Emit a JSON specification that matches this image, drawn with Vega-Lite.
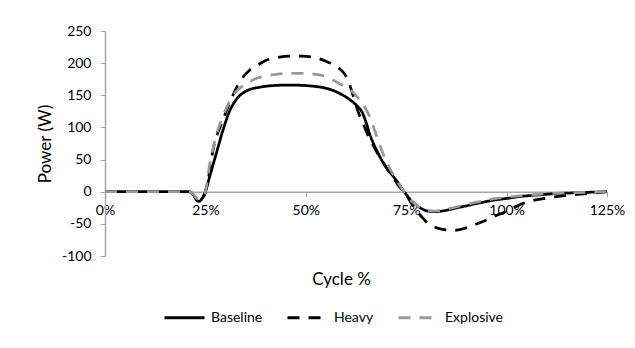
{
  "$schema": "https://vega.github.io/schema/vega-lite/v6.json",
  "width": 502,
  "height": 225,
  "autosize": {"type": "none"},
  "padding": {"left": 105, "top": 31, "right": 28, "bottom": 92},
  "background": "white",
  "view": {"stroke": null},
  "config": {"font": "Lato"},
  "data": {"values": [
    {"Series":"Baseline","Cycle":0,"Power":0},{"Series":"Baseline","Cycle":5,"Power":0},{"Series":"Baseline","Cycle":10,"Power":0},{"Series":"Baseline","Cycle":15,"Power":0},{"Series":"Baseline","Cycle":20,"Power":0},{"Series":"Baseline","Cycle":21,"Power":0},{"Series":"Baseline","Cycle":22,"Power":-5},{"Series":"Baseline","Cycle":23,"Power":-14},{"Series":"Baseline","Cycle":23.5,"Power":-15},{"Series":"Baseline","Cycle":24,"Power":-12},{"Series":"Baseline","Cycle":25,"Power":0},{"Series":"Baseline","Cycle":26,"Power":22},{"Series":"Baseline","Cycle":27,"Power":44},{"Series":"Baseline","Cycle":28,"Power":66},{"Series":"Baseline","Cycle":29,"Power":88},{"Series":"Baseline","Cycle":30,"Power":108},{"Series":"Baseline","Cycle":31,"Power":125},{"Series":"Baseline","Cycle":32,"Power":137},{"Series":"Baseline","Cycle":33,"Power":146},{"Series":"Baseline","Cycle":34,"Power":152},{"Series":"Baseline","Cycle":35,"Power":156},{"Series":"Baseline","Cycle":36,"Power":159},{"Series":"Baseline","Cycle":38,"Power":162},{"Series":"Baseline","Cycle":40,"Power":164},{"Series":"Baseline","Cycle":43,"Power":165.5},{"Series":"Baseline","Cycle":46,"Power":166},{"Series":"Baseline","Cycle":49,"Power":165.5},{"Series":"Baseline","Cycle":52,"Power":164},{"Series":"Baseline","Cycle":55,"Power":161},{"Series":"Baseline","Cycle":57,"Power":157},{"Series":"Baseline","Cycle":59,"Power":151},{"Series":"Baseline","Cycle":61,"Power":143},{"Series":"Baseline","Cycle":62,"Power":138},{"Series":"Baseline","Cycle":63,"Power":132},{"Series":"Baseline","Cycle":64,"Power":124},{"Series":"Baseline","Cycle":65,"Power":108},{"Series":"Baseline","Cycle":66,"Power":88},{"Series":"Baseline","Cycle":67,"Power":73},{"Series":"Baseline","Cycle":68,"Power":60},{"Series":"Baseline","Cycle":69,"Power":48},{"Series":"Baseline","Cycle":70,"Power":38},{"Series":"Baseline","Cycle":71,"Power":30},{"Series":"Baseline","Cycle":72,"Power":22},{"Series":"Baseline","Cycle":73,"Power":14},{"Series":"Baseline","Cycle":74,"Power":4},{"Series":"Baseline","Cycle":75,"Power":-4},{"Series":"Baseline","Cycle":76,"Power":-12},{"Series":"Baseline","Cycle":77,"Power":-18},{"Series":"Baseline","Cycle":78,"Power":-23},{"Series":"Baseline","Cycle":79,"Power":-27},{"Series":"Baseline","Cycle":80,"Power":-29.5},{"Series":"Baseline","Cycle":82,"Power":-31},{"Series":"Baseline","Cycle":84,"Power":-30},{"Series":"Baseline","Cycle":86,"Power":-27.5},{"Series":"Baseline","Cycle":88,"Power":-24.5},{"Series":"Baseline","Cycle":90,"Power":-22},{"Series":"Baseline","Cycle":92,"Power":-19},{"Series":"Baseline","Cycle":94,"Power":-16.5},{"Series":"Baseline","Cycle":96,"Power":-14},{"Series":"Baseline","Cycle":98,"Power":-12},{"Series":"Baseline","Cycle":100,"Power":-10.5},{"Series":"Baseline","Cycle":104,"Power":-7},{"Series":"Baseline","Cycle":108,"Power":-5},{"Series":"Baseline","Cycle":112,"Power":-3},{"Series":"Baseline","Cycle":116,"Power":-2},{"Series":"Baseline","Cycle":120,"Power":-1},{"Series":"Baseline","Cycle":125,"Power":0},
    {"Series":"Heavy","Cycle":0,"Power":0},{"Series":"Heavy","Cycle":5,"Power":0},{"Series":"Heavy","Cycle":10,"Power":0},{"Series":"Heavy","Cycle":15,"Power":0},{"Series":"Heavy","Cycle":20,"Power":0},{"Series":"Heavy","Cycle":21,"Power":0},{"Series":"Heavy","Cycle":22,"Power":-5},{"Series":"Heavy","Cycle":23,"Power":-14},{"Series":"Heavy","Cycle":23.5,"Power":-15},{"Series":"Heavy","Cycle":24,"Power":-12},{"Series":"Heavy","Cycle":25,"Power":0},{"Series":"Heavy","Cycle":26,"Power":30},{"Series":"Heavy","Cycle":27,"Power":68},{"Series":"Heavy","Cycle":28,"Power":90},{"Series":"Heavy","Cycle":29,"Power":106},{"Series":"Heavy","Cycle":30,"Power":122},{"Series":"Heavy","Cycle":31,"Power":138},{"Series":"Heavy","Cycle":32,"Power":152},{"Series":"Heavy","Cycle":33,"Power":165},{"Series":"Heavy","Cycle":34,"Power":175},{"Series":"Heavy","Cycle":35,"Power":183},{"Series":"Heavy","Cycle":36,"Power":189},{"Series":"Heavy","Cycle":38,"Power":197},{"Series":"Heavy","Cycle":40,"Power":204},{"Series":"Heavy","Cycle":43,"Power":209},{"Series":"Heavy","Cycle":46,"Power":211},{"Series":"Heavy","Cycle":49,"Power":211},{"Series":"Heavy","Cycle":52,"Power":209},{"Series":"Heavy","Cycle":55,"Power":203},{"Series":"Heavy","Cycle":57,"Power":197},{"Series":"Heavy","Cycle":59,"Power":188},{"Series":"Heavy","Cycle":60,"Power":180},{"Series":"Heavy","Cycle":61,"Power":165},{"Series":"Heavy","Cycle":62,"Power":145},{"Series":"Heavy","Cycle":63,"Power":125},{"Series":"Heavy","Cycle":64,"Power":110},{"Series":"Heavy","Cycle":65,"Power":95},{"Series":"Heavy","Cycle":66,"Power":80},{"Series":"Heavy","Cycle":67,"Power":70},{"Series":"Heavy","Cycle":68,"Power":58},{"Series":"Heavy","Cycle":69,"Power":48},{"Series":"Heavy","Cycle":70,"Power":38},{"Series":"Heavy","Cycle":71,"Power":29},{"Series":"Heavy","Cycle":72,"Power":20},{"Series":"Heavy","Cycle":73,"Power":10},{"Series":"Heavy","Cycle":74,"Power":3},{"Series":"Heavy","Cycle":75,"Power":-5},{"Series":"Heavy","Cycle":76,"Power":-15},{"Series":"Heavy","Cycle":77,"Power":-25},{"Series":"Heavy","Cycle":78,"Power":-33},{"Series":"Heavy","Cycle":79,"Power":-40},{"Series":"Heavy","Cycle":80,"Power":-47},{"Series":"Heavy","Cycle":81,"Power":-52},{"Series":"Heavy","Cycle":83,"Power":-57},{"Series":"Heavy","Cycle":85,"Power":-59.5},{"Series":"Heavy","Cycle":87,"Power":-60},{"Series":"Heavy","Cycle":89,"Power":-58},{"Series":"Heavy","Cycle":91,"Power":-54},{"Series":"Heavy","Cycle":93,"Power":-49},{"Series":"Heavy","Cycle":95,"Power":-44},{"Series":"Heavy","Cycle":97,"Power":-38},{"Series":"Heavy","Cycle":99,"Power":-33},{"Series":"Heavy","Cycle":101,"Power":-27},{"Series":"Heavy","Cycle":103,"Power":-21},{"Series":"Heavy","Cycle":105,"Power":-16},{"Series":"Heavy","Cycle":108,"Power":-12},{"Series":"Heavy","Cycle":112,"Power":-8},{"Series":"Heavy","Cycle":116,"Power":-5},{"Series":"Heavy","Cycle":120,"Power":-3},{"Series":"Heavy","Cycle":125,"Power":0},
    {"Series":"Explosive","Cycle":0,"Power":0},{"Series":"Explosive","Cycle":5,"Power":0},{"Series":"Explosive","Cycle":10,"Power":0},{"Series":"Explosive","Cycle":15,"Power":0},{"Series":"Explosive","Cycle":20,"Power":0},{"Series":"Explosive","Cycle":21,"Power":0},{"Series":"Explosive","Cycle":22,"Power":-4},{"Series":"Explosive","Cycle":23,"Power":-11},{"Series":"Explosive","Cycle":23.5,"Power":-12},{"Series":"Explosive","Cycle":24,"Power":-10},{"Series":"Explosive","Cycle":25,"Power":0},{"Series":"Explosive","Cycle":26,"Power":40},{"Series":"Explosive","Cycle":27,"Power":70},{"Series":"Explosive","Cycle":28,"Power":94},{"Series":"Explosive","Cycle":29,"Power":112},{"Series":"Explosive","Cycle":30,"Power":127},{"Series":"Explosive","Cycle":31,"Power":140},{"Series":"Explosive","Cycle":32,"Power":151},{"Series":"Explosive","Cycle":33,"Power":158},{"Series":"Explosive","Cycle":34,"Power":163},{"Series":"Explosive","Cycle":35,"Power":167},{"Series":"Explosive","Cycle":36,"Power":171},{"Series":"Explosive","Cycle":38,"Power":177},{"Series":"Explosive","Cycle":40,"Power":180},{"Series":"Explosive","Cycle":43,"Power":183},{"Series":"Explosive","Cycle":46,"Power":184},{"Series":"Explosive","Cycle":49,"Power":184},{"Series":"Explosive","Cycle":52,"Power":183},{"Series":"Explosive","Cycle":55,"Power":179},{"Series":"Explosive","Cycle":57,"Power":173},{"Series":"Explosive","Cycle":59,"Power":166},{"Series":"Explosive","Cycle":61,"Power":158},{"Series":"Explosive","Cycle":62,"Power":153},{"Series":"Explosive","Cycle":63,"Power":146},{"Series":"Explosive","Cycle":64,"Power":138},{"Series":"Explosive","Cycle":65,"Power":128},{"Series":"Explosive","Cycle":66,"Power":115},{"Series":"Explosive","Cycle":67,"Power":98},{"Series":"Explosive","Cycle":68,"Power":80},{"Series":"Explosive","Cycle":69,"Power":63},{"Series":"Explosive","Cycle":70,"Power":48},{"Series":"Explosive","Cycle":71,"Power":35},{"Series":"Explosive","Cycle":72,"Power":24},{"Series":"Explosive","Cycle":73,"Power":14},{"Series":"Explosive","Cycle":74,"Power":4},{"Series":"Explosive","Cycle":75,"Power":-4},{"Series":"Explosive","Cycle":76,"Power":-12},{"Series":"Explosive","Cycle":77,"Power":-18},{"Series":"Explosive","Cycle":78,"Power":-23},{"Series":"Explosive","Cycle":79,"Power":-27},{"Series":"Explosive","Cycle":80,"Power":-29},{"Series":"Explosive","Cycle":82,"Power":-30},{"Series":"Explosive","Cycle":84,"Power":-29},{"Series":"Explosive","Cycle":86,"Power":-26},{"Series":"Explosive","Cycle":88,"Power":-23},{"Series":"Explosive","Cycle":90,"Power":-20},{"Series":"Explosive","Cycle":92,"Power":-17},{"Series":"Explosive","Cycle":94,"Power":-14.5},{"Series":"Explosive","Cycle":96,"Power":-12},{"Series":"Explosive","Cycle":98,"Power":-10},{"Series":"Explosive","Cycle":100,"Power":-8.5},{"Series":"Explosive","Cycle":104,"Power":-6},{"Series":"Explosive","Cycle":108,"Power":-4},{"Series":"Explosive","Cycle":112,"Power":-2.5},{"Series":"Explosive","Cycle":116,"Power":-1.5},{"Series":"Explosive","Cycle":120,"Power":-1},{"Series":"Explosive","Cycle":125,"Power":0}
  ]},
  "mark": {"type": "line", "strokeWidth": 2.75, "interpolate": "monotone"},
  "encoding": {
    "x": {
      "field": "Cycle", "type": "quantitative",
      "scale": {"domain": [0, 125], "nice": false, "zero": false},
      "axis": {
        "title": "Cycle %", "values": [0, 25, 50, 75, 100, 125],
        "labelExpr": "datum.value + '%'", "offset": -64.3,
        "grid": false, "domainColor": "#a6a6a6", "domainWidth": 1.5, "tickColor": "#a6a6a6", "tickSize": 5,
        "labelFontSize": 14, "labelColor": "#000000", "labelPadding": 7, "labelFlush": false,
        "titleFontSize": 17, "titleFontWeight": "normal", "titleColor": "#000000",
        "titleX": 236, "titleY": 88, "titleBaseline": "middle", "titleAnchor": null
      }
    },
    "y": {
      "field": "Power", "type": "quantitative",
      "scale": {"domain": [-100, 250], "nice": false},
      "axis": {
        "title": "Power (W)", "values": [-100, -50, 0, 50, 100, 150, 200, 250],
        "labelExpr": "'' + datum.value",
        "grid": false, "domainColor": "#a6a6a6", "domainWidth": 1.5, "tickColor": "#a6a6a6", "tickSize": 5,
        "labelFontSize": 14, "labelColor": "#000000", "labelPadding": 9,
        "titleFontSize": 17, "titleFontWeight": "normal", "titleColor": "#000000",
        "titleX": -60, "titleY": 112.5, "titleBaseline": "middle"
      }
    },
    "color": {
      "field": "Series", "type": "nominal",
      "scale": {"domain": ["Baseline", "Heavy", "Explosive"], "range": ["#000000", "#000000", "#999999"]},
      "legend": {
        "title": null, "orient": "none", "direction": "horizontal", "legendX": 58, "legendY": 265,
        "symbolType": "stroke", "symbolSize": 1600, "symbolStrokeWidth": 3,
        "labelFontSize": 14, "labelColor": "#000000", "labelOffset": 5, "columnPadding": 18
      }
    },
    "strokeDash": {
      "field": "Series", "type": "nominal",
      "scale": {"domain": ["Baseline", "Heavy", "Explosive"], "range": [[1, 0], [12, 9], [12, 9]]},
      "legend": {
        "title": null, "orient": "none", "direction": "horizontal", "legendX": 58, "legendY": 265,
        "symbolType": "stroke", "symbolSize": 1600, "symbolStrokeWidth": 3,
        "labelFontSize": 14, "labelColor": "#000000", "labelOffset": 5, "columnPadding": 18
      }
    }
  }
}
